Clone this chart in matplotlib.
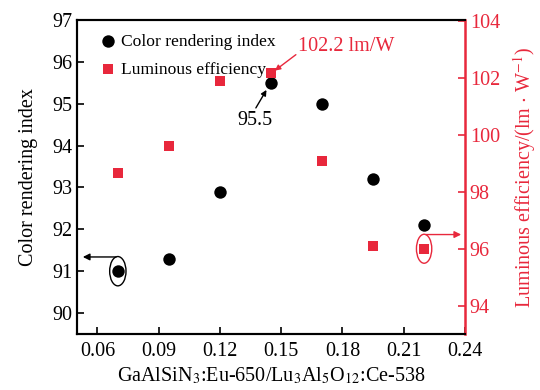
import matplotlib
matplotlib.use("Agg")
import matplotlib.pyplot as plt
from matplotlib.patches import Ellipse

plt.rcParams['font.family'] = ['Liberation Serif', 'DejaVu Serif']
plt.rcParams['mathtext.fontset'] = 'stix'

RED = '#e8283c'

ratio = [0.07, 0.095, 0.12, 0.145, 0.17, 0.195, 0.22]
cri = [91.0, 91.3, 92.9, 95.5, 95.0, 93.2, 92.1]
eff = [98.65, 99.6, 101.9, 102.2, 99.1, 96.1, 96.0]

xticks = [0.06, 0.09, 0.12, 0.15, 0.18, 0.21, 0.24]
xticklabels = ['0.06', '0.09', '0.12', '0.15', '0.18', '0.21', '0.24']
yticks_left = [90, 91, 92, 93, 94, 95, 96, 97]
yticks_right = [94, 96, 98, 100, 102, 104]

fig = plt.figure(figsize=(5.4, 3.9), dpi=100)
ax = fig.add_axes([0.1426, 0.1436, 0.861 - 0.1426, 0.9487 - 0.1436])
ax2 = ax.twinx()

h1 = ax.scatter(ratio, cri, s=80, color='black', marker='o', zorder=3, linewidths=0)
h2 = ax2.scatter(ratio, eff, s=62, color=RED, marker='s', zorder=3, linewidths=0)

ax.set_xlim(0.05, 0.24)
ax.set_ylim(89.5, 97)
ax2.set_ylim(93, 104.05)

ax.set_xticks(xticks)
ax.set_xticklabels(xticklabels)
ax.set_yticks(yticks_left)
ax2.set_yticks(yticks_right)

ax.tick_params(direction='in', length=5, width=1.2, labelsize=14.5, colors='black')
ax.tick_params(axis='x', pad=6)
ax2.tick_params(axis='y', direction='in', length=5, width=1.2, labelsize=14.5,
                colors=RED)
for s in ['left', 'bottom', 'top']:
    ax.spines[s].set_linewidth(1.5)
    ax2.spines[s].set_linewidth(1.5)
ax2.spines['right'].set_color(RED)
ax2.spines['right'].set_linewidth(1.8)
ax.spines['right'].set_visible(False)

ax.set_ylabel('Color rendering index', fontsize=14.5, labelpad=10)
ax2.set_ylabel(r'Luminous efficiency/(lm $\cdot$ W$^{-1}$)', fontsize=14.5,
               color=RED, labelpad=8)
ax.set_xlabel(r'GaAlSiN$_3$:Eu-650/Lu$_3$Al$_5$O$_{12}$:Ce-538', fontsize=14.5,
              labelpad=3)

# ellipses and arrows
ax.add_patch(Ellipse((0.07, 91.0), 0.008, 0.7, fill=False, color='black', lw=1.0))
ax.annotate('', xy=(0.0515, 91.34), xytext=(0.0705, 91.34),
            arrowprops=dict(arrowstyle='-|>', color='black', lw=1.0,
                            mutation_scale=10))
ax2.add_patch(Ellipse((0.22, 96.0), 0.0075, 1.02, fill=False, color=RED, lw=1.0))
ax2.annotate('', xy=(0.2395, 96.5), xytext=(0.2195, 96.5),
             arrowprops=dict(arrowstyle='-|>', color=RED, lw=1.0,
                             mutation_scale=10))

# value annotations
ax.text(0.1371, 94.6, '95.5', fontsize=14.5, ha='center', va='center')
ax.annotate('', xy=(0.1428, 95.33), xytext=(0.1376, 94.9),
            arrowprops=dict(arrowstyle='-|>', color='black', lw=1.0,
                            mutation_scale=8, shrinkA=0, shrinkB=0))
ax2.text(0.1817, 103.12, '102.2 lm/W', fontsize=14.5, ha='center', va='center',
         color=RED)
ax2.annotate('', xy=(0.1469, 102.27), xytext=(0.1572, 102.83),
             arrowprops=dict(arrowstyle='-|>', color=RED, lw=1.0,
                             mutation_scale=8, shrinkA=0, shrinkB=0))

ax2.legend([h1, h2], ['Color rendering index', 'Luminous efficiency'],
           loc='upper left', bbox_to_anchor=(0.04, 0.99), frameon=False,
           fontsize=12.6, handlelength=0.6, handletextpad=0.4,
           labelspacing=0.65, borderaxespad=0.2)

fig.savefig('out.png', dpi=100)
